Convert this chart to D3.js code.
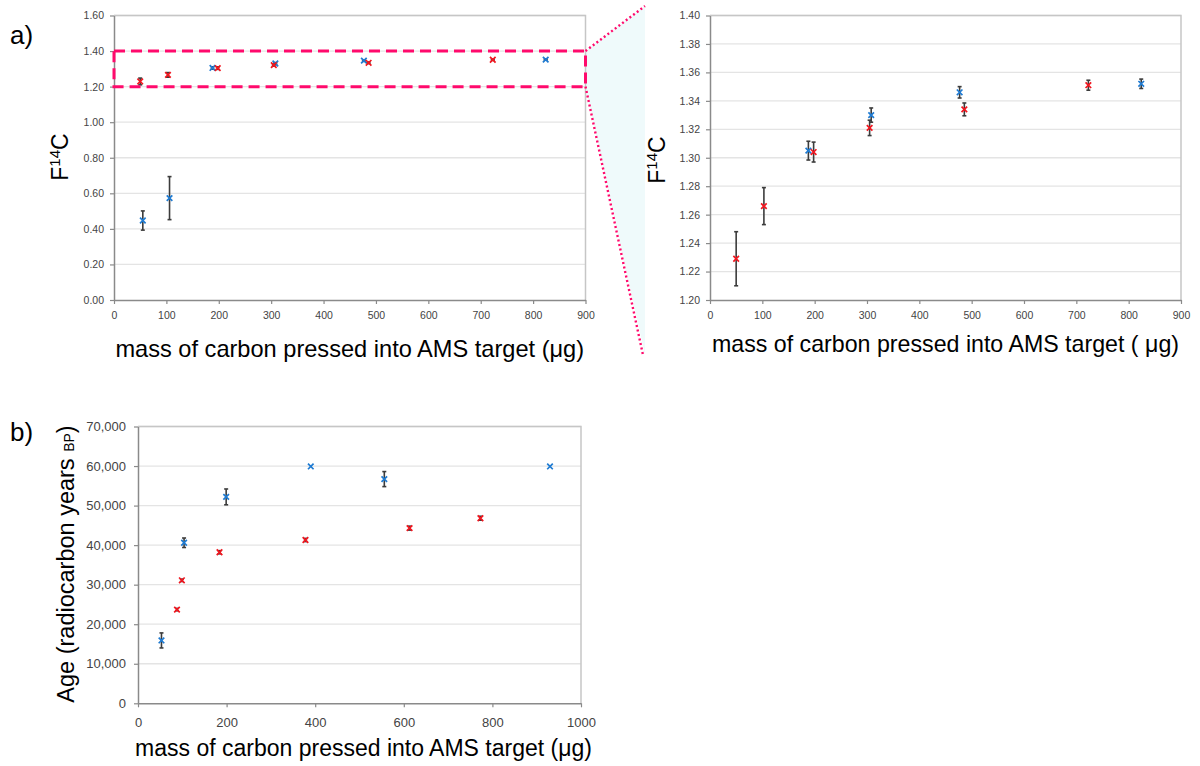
<!DOCTYPE html>
<html>
<head>
<meta charset="utf-8">
<script src="https://cdn.jsdelivr.net/npm/d3@7"></script>
<style>
  body { margin: 0; background: #fff; }
  svg { display: block; font-family: "Liberation Sans", Arial, sans-serif; }
</style>
</head>
<body>
<svg id="fig" width="1200" height="766"></svg>
<script>
// panel a) F14C vs mass
const massBlueA = [55, 106, 188, 308, 477, 824];
const f14cBlue = [0.447, 0.573, 1.305, 1.330, 1.346, 1.352];
const f14cBlueErr = [0.054, 0.121, 0.0066, 0.005, 0.004, 0.0033];
const massRedA = [50, 103, 198, 305, 486, 723];
const f14cRed = [1.229, 1.266, 1.304, 1.321, 1.334, 1.351];
const f14cRedErr = [0.019, 0.013, 0.007, 0.0054, 0.0045, 0.0035];

// panel b) radiocarbon age vs mass
const massBlueB = [53, 104, 199, 390, 556, 930];
const ageBlue = [15900, 40600, 52200, 59900, 56700, 59900];
const ageBlueErr = [1900, 1200, 2000, 0, 1900, 0];
const massRedB = [88, 99, 184, 378, 613, 773];
const ageRed = [23700, 31100, 38200, 41300, 44300, 46800];
const ageRedErr = [300, 300, 400, 400, 500, 500];

// ticks
const xTicksA = d3.range(0, 901, 100);
const yTicksA = d3.range(0, 1.601, 0.2);
const yTicksZoom = d3.range(1.2, 1.4001, 0.02);
const xTicksB = d3.range(0, 1001, 200);
const yTicksB = d3.range(0, 70001, 10000);

const svg = d3.select("#fig");
const BLUE = "#1f7bd2", RED = "#f2161f", ERR = "#3c3c3c", PINK = "#ff0a6c";

function panel(cfg) {
  const x = d3.scaleLinear().domain(cfg.xDomain).range([cfg.left, cfg.right]);
  const y = d3.scaleLinear().domain(cfg.yDomain).range([cfg.bottom, cfg.top]);
  const g = svg.append("g");

  // horizontal gridlines
  g.append("g").selectAll("line")
    .data(cfg.yTicks.slice(1))
    .join("line")
    .attr("x1", cfg.left).attr("x2", cfg.right)
    .attr("y1", d => y(d)).attr("y2", d => y(d))
    .attr("stroke", "#e4e4e4").attr("stroke-width", 1.3);

  // top / right frame
  g.append("path")
    .attr("d", `M${cfg.left},${cfg.top}H${cfg.right}V${cfg.bottom}`)
    .attr("fill", "none").attr("stroke", "#c6c6c6").attr("stroke-width", 1.5);

  const xAxis = g.append("g")
    .attr("transform", `translate(0,${cfg.bottom})`)
    .call(d3.axisBottom(x).tickValues(cfg.xTicks).tickSize(4)
      .tickPadding(cfg.xPad).tickSizeOuter(0).tickFormat(d3.format("d")));
  const yAxis = g.append("g")
    .attr("transform", `translate(${cfg.left},0)`)
    .call(d3.axisLeft(y).tickValues(cfg.yTicks).tickSize(4)
      .tickPadding(cfg.yPad).tickSizeOuter(0).tickFormat(cfg.yFormat));
  [xAxis, yAxis].forEach(a => {
    a.select(".domain").attr("stroke", "#8a8a8a").attr("stroke-width", 1.5);
    a.selectAll(".tick line").attr("stroke", "#8a8a8a").attr("stroke-width", 1.2);
    a.selectAll(".tick text").attr("fill", "#444")
      .style("font-size", cfg.tickFont + "px")
      .style("font-family", '"Liberation Sans", Arial, sans-serif');
  });

  // x axis title
  g.append("text")
    .attr("x", (cfg.left + cfg.right) / 2 + (cfg.titleDx || 0))
    .attr("y", cfg.titleY)
    .attr("text-anchor", "middle")
    .style("font-size", cfg.titleFont + "px")
    .text(cfg.xTitle);

  return {x, y, g, cfg};
}

function series(p, xs, ys, errs, color) {
  const [y0, y1] = p.y.domain();
  const pts = xs.map((m, i) => ({m, v: ys[i], e: errs[i]}))
    .filter(d => d.v >= y0 && d.v <= y1);
  const s = p.g.append("g");
  const eb = s.selectAll("g.err").data(pts.filter(d => d.e > 0)).join("g");
  eb.append("line")
    .attr("x1", d => p.x(d.m)).attr("x2", d => p.x(d.m))
    .attr("y1", d => p.y(d.v - d.e)).attr("y2", d => p.y(d.v + d.e))
    .attr("stroke", ERR).attr("stroke-width", 1.6);
  [-1, 1].forEach(sgn => {
    eb.append("line")
      .attr("x1", d => p.x(d.m) - 2).attr("x2", d => p.x(d.m) + 2)
      .attr("y1", d => p.y(d.v + sgn * d.e)).attr("y2", d => p.y(d.v + sgn * d.e))
      .attr("stroke", ERR).attr("stroke-width", 1.6);
  });
  const r = 2.8;
  s.selectAll("path.mk").data(pts).join("path")
    .attr("d", d => {
      const cx = p.x(d.m), cy = p.y(d.v);
      return `M${cx - r},${cy - r}L${cx + r},${cy + r}M${cx - r},${cy + r}L${cx + r},${cy - r}`;
    })
    .attr("stroke", color).attr("stroke-width", 1.7).attr("fill", "none");
}

// ---- panel a) left: full range
const pA = panel({
  xDomain: [0, 900], yDomain: [0, 1.6],
  left: 114, right: 585.5, top: 15.5, bottom: 300,
  xTicks: xTicksA, yTicks: yTicksA, yFormat: d3.format(".2f"),
  xPad: 8, yPad: 6, tickFont: 10.5, titleFont: 23.6,
  xTitle: "mass of carbon pressed into AMS target (\u03bcg)", titleY: 357
});

// ---- zoom connector (behind right panel)
const zx = pA.x(900), zTop = pA.y(1.4), zBot = pA.y(1.2);
svg.insert("path", ":first-child")
  .attr("d", `M${zx},${zTop}L645,6L645,355L${zx},${zBot}Z`)
  .attr("fill", "#effafb");

// ---- panel a) right: zoom 1.20 - 1.40
const pZ = panel({
  xDomain: [0, 900], yDomain: [1.2, 1.4],
  left: 710, right: 1181, top: 15.5, bottom: 300,
  xTicks: xTicksA, yTicks: yTicksZoom, yFormat: d3.format(".2f"),
  xPad: 8, yPad: 6, tickFont: 10.5, titleFont: 23.2,
  xTitle: "mass of carbon pressed into AMS target ( \u03bcg)", titleY: 352
});

// ---- panel b)
const pB = panel({
  xDomain: [0, 1000], yDomain: [0, 70000],
  left: 138, right: 581, top: 426.5, bottom: 703.3,
  xTicks: xTicksB, yTicks: yTicksB, yFormat: d3.format(","),
  xPad: 10, yPad: 8, tickFont: 13, titleFont: 23,
  xTitle: "mass of carbon pressed into AMS target (\u03bcg)", titleY: 756, titleDx: 4
});

series(pA, massBlueA, f14cBlue, f14cBlueErr, BLUE);
series(pA, massRedA, f14cRed, f14cRedErr, RED);
series(pZ, massBlueA, f14cBlue, f14cBlueErr, BLUE);
series(pZ, massRedA, f14cRed, f14cRedErr, RED);
series(pB, massBlueB, ageBlue, ageBlueErr, BLUE);
series(pB, massRedB, ageRed, ageRedErr, RED);

// dashed highlight box and dotted connector lines
svg.append("rect")
  .attr("x", pA.x(0)).attr("y", zTop)
  .attr("width", pA.x(900) - pA.x(0)).attr("height", zBot - zTop)
  .attr("fill", "none").attr("stroke", PINK).attr("stroke-width", 3)
  .attr("stroke-dasharray", "11,6");
svg.append("path")
  .attr("d", `M${zx},${zTop}L645,6M${zx},${zBot}L643,355`)
  .attr("fill", "none").attr("stroke", PINK).attr("stroke-width", 2.4)
  .attr("stroke-dasharray", "2,2.6");

// y axis titles
function f14Label(cx, cy) {
  const t = svg.append("text")
    .attr("transform", `translate(${cx},${cy}) rotate(-90)`)
    .attr("text-anchor", "middle")
    .style("font-size", "23px");
  t.append("tspan").text("F");
  t.append("tspan").attr("dy", -8).style("font-size", "15px").text("14");
  t.append("tspan").attr("dy", 8).text("C");
}
f14Label(68, 157);
f14Label(665, 160);

const ageT = svg.append("text")
  .attr("transform", "translate(74,564) rotate(-90)")
  .attr("text-anchor", "middle")
  .style("font-size", "23.5px");
ageT.append("tspan").text("Age (radiocarbon years ");
ageT.append("tspan").style("font-size", "14px").text("BP");
ageT.append("tspan").text(")");

// panel letters
svg.append("text").attr("x", 10).attr("y", 44).style("font-size", "26px").text("a)");
svg.append("text").attr("x", 10).attr("y", 441).style("font-size", "26px").text("b)");
</script>
</body>
</html>
